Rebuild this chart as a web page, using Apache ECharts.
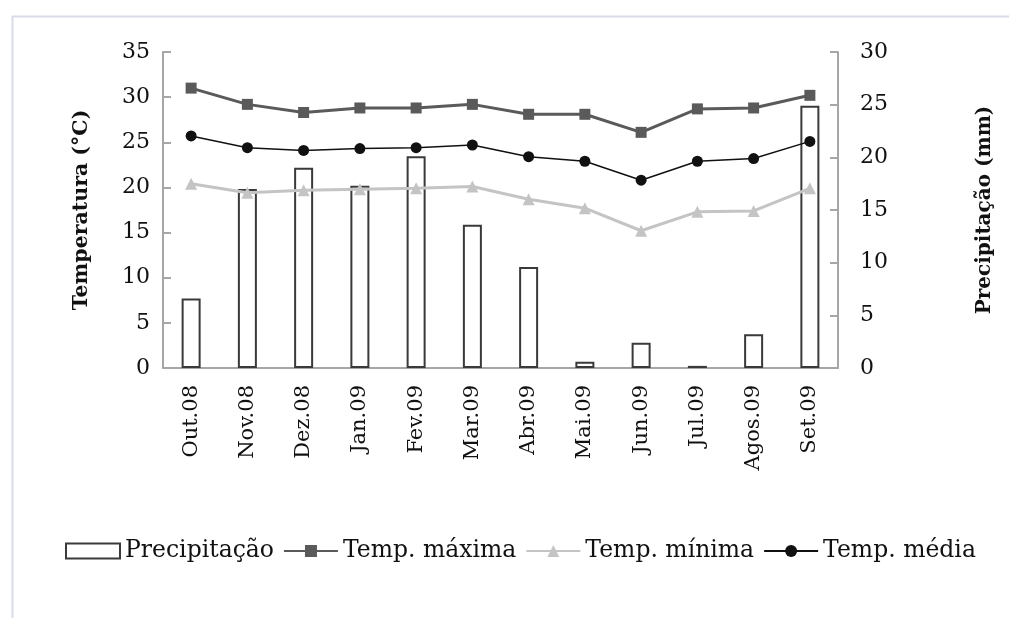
<!DOCTYPE html>
<html>
<head>
<meta charset="utf-8">
<script src="https://cdn.jsdelivr.net/npm/echarts@6/dist/echarts.min.js"></script>
<style>
html,body{margin:0;padding:0;background:#fff;}
#chart{width:1009px;height:618px;}
</style>
</head>
<body>
<div id="chart"></div>
<script>
const categories = ['Out.08','Nov.08','Dez.08','Jan.09','Fev.09','Mar.09','Abr.09','Mai.09','Jun.09','Jul.09','Agos.09','Set.09'];
const precipitacao = [6.6, 17.0, 19.0, 17.3, 20.1, 13.6, 9.6, 0.6, 2.4, 0.2, 3.2, 24.9];
const tempMaxima = [31.0, 29.2, 28.3, 28.8, 28.8, 29.2, 28.1, 28.1, 26.1, 28.7, 28.8, 30.2];
const tempMinima = [20.4, 19.4, 19.7, 19.8, 19.9, 20.1, 18.7, 17.7, 15.2, 17.3, 17.4, 19.9];
const tempMedia = [25.7, 24.4, 24.1, 24.3, 24.4, 24.7, 23.4, 22.9, 20.8, 22.9, 23.2, 25.1];
const leftTicks = {min: 0, max: 35, interval: 5};
const rightTicks = {min: 0, max: 30, interval: 5};

const FONT = 'DejaVu Serif';
const chart = echarts.init(document.getElementById('chart'), null, {renderer: 'canvas'});
const axisGray = '#a6a6a6';
chart.setOption({
  animation: false,
  backgroundColor: '#ffffff',
  graphic: [{
    type: 'rect', left: 10, top: 14,
    shape: {width: 1020, height: 620},
    style: {fill: 'none', stroke: '#d9dce8', lineWidth: 2}
  }],
  grid: {left: 163, right: 171, top: 52, bottom: 250},
  legend: {
    left: 60, top: 534,
    itemWidth: 54, itemHeight: 15, itemGap: 9,
    textStyle: {fontFamily: FONT, fontSize: 23.5, color: '#111'},
    data: [
      {name: 'Precipitação', icon: 'rect'},
      {name: 'Temp. máxima'},
      {name: 'Temp. mínima'},
      {name: 'Temp. média'}
    ]
  },
  xAxis: {
    type: 'category',
    data: categories,
    axisLine: {lineStyle: {color: axisGray, width: 2}},
    axisTick: {show: false},
    axisLabel: {rotate: 90, margin: 17, fontFamily: FONT, fontSize: 21, color: '#111'}
  },
  yAxis: [{
    type: 'value', position: 'left',
    min: leftTicks.min, max: leftTicks.max, interval: leftTicks.interval,
    name: 'Temperatura (°C)', nameLocation: 'middle', nameGap: 71, nameRotate: 90,
    nameTextStyle: {fontFamily: FONT, fontSize: 20.5, fontWeight: 'bold', color: '#111'},
    axisLine: {show: true, lineStyle: {color: axisGray, width: 2}},
    axisTick: {show: true, inside: true, length: 8, lineStyle: {color: axisGray, width: 2}},
    axisLabel: {margin: 13, fontFamily: FONT, fontSize: 22, color: '#111'},
    splitLine: {show: false}
  }, {
    type: 'value', position: 'right',
    min: rightTicks.min, max: rightTicks.max, interval: rightTicks.interval,
    name: 'Precipitação (mm)', nameLocation: 'middle', nameGap: 137, nameRotate: 90,
    nameTextStyle: {fontFamily: FONT, fontSize: 20, fontWeight: 'bold', color: '#111'},
    axisLine: {show: true, lineStyle: {color: axisGray, width: 2}},
    axisTick: {show: true, inside: true, length: 8, lineStyle: {color: axisGray, width: 2}},
    axisLabel: {margin: 22, fontFamily: FONT, fontSize: 22, color: '#111'},
    splitLine: {show: false}
  }],
  series: [{
    name: 'Precipitação', type: 'bar', yAxisIndex: 1,
    data: precipitacao, barWidth: 19,
    itemStyle: {color: '#ffffff', borderColor: '#3a3a3a', borderWidth: 2}
  }, {
    name: 'Temp. máxima', type: 'line', yAxisIndex: 0,
    data: tempMaxima, symbol: 'rect', symbolSize: 11,
    lineStyle: {color: '#5a5a5a', width: 3},
    itemStyle: {color: '#5a5a5a'}
  }, {
    name: 'Temp. mínima', type: 'line', yAxisIndex: 0,
    data: tempMinima, symbol: 'triangle', symbolSize: 12,
    lineStyle: {color: '#c4c4c4', width: 3},
    itemStyle: {color: '#c4c4c4'}
  }, {
    name: 'Temp. média', type: 'line', yAxisIndex: 0,
    data: tempMedia, symbol: 'circle', symbolSize: 11,
    lineStyle: {color: '#111111', width: 1.5},
    itemStyle: {color: '#111111'}
  }]
});
</script>
</body>
</html>
